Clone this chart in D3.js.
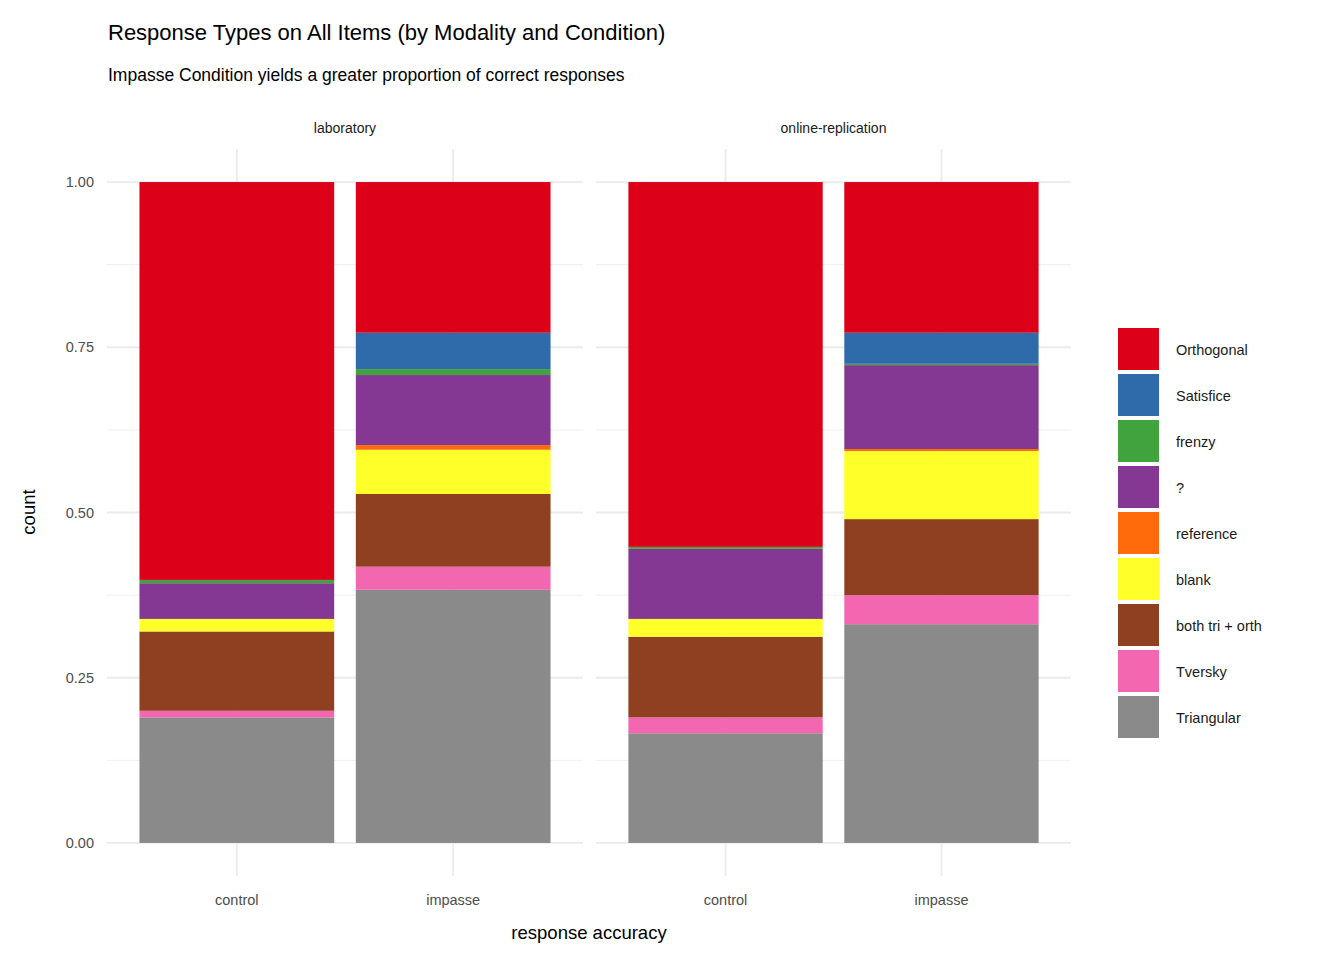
<!DOCTYPE html>
<html><head><meta charset="utf-8">
<script src="https://cdn.jsdelivr.net/npm/d3@7"></script>
<style>body{margin:0;background:#fff;font-family:"Liberation Sans",Arial,sans-serif}</style>
</head><body><svg id="c" width="1344" height="960"></svg>
<script>
// response types, bottom to top of the stack
const types = ["Triangular", "Tversky", "both tri + orth", "blank", "reference", "?", "frenzy", "Satisfice", "Orthogonal"];
const colors = ["#8a8a8a", "#f267b0", "#8f4020", "#ffff2a", "#ff6a0a", "#843894", "#41a33e", "#2f6bab", "#dc0018"];
const panels = ["laboratory", "online-replication"];
const conditions = ["control", "impasse"];
// proportions per panel / condition, in the order of `types`
const labControl     = [0.190, 0.010, 0.120, 0.019, 0.000, 0.054, 0.005, 0.000, 0.602];
const labImpasse     = [0.383, 0.035, 0.110, 0.067, 0.007, 0.106, 0.009, 0.055, 0.228];
const onlineControl  = [0.166, 0.024, 0.122, 0.027, 0.000, 0.106, 0.003, 0.000, 0.552];
const onlineImpasse  = [0.331, 0.044, 0.115, 0.103, 0.003, 0.127, 0.002, 0.047, 0.228];
const values = [[labControl, labImpasse], [onlineControl, onlineImpasse]];
const yTicks = [0, 0.25, 0.5, 0.75, 1];
const yMinor = [0.125, 0.375, 0.625, 0.875];

const svg = d3.select("#c");
const plotTop = 149, plotBottom = 876;
const y = d3.scaleLinear().domain([-0.05, 1.05]).range([plotBottom, plotTop]);
const panelX = [[107, 583], [596, 1071]];

svg.append("text").attr("x", 108).attr("y", 40).attr("font-size", 22).text("Response Types on All Items (by Modality and Condition)");
svg.append("text").attr("x", 108).attr("y", 81).attr("font-size", 17.5).text("Impasse Condition yields a greater proportion of correct responses");

panels.forEach((p, pi) => {
  // discrete scale: bar width 0.9 of one unit, 0.6 unit expansion each side
  const unit = (panelX[pi][1] - panelX[pi][0]) / 2.2;
  const cx = c => panelX[pi][0] + unit * (0.6 + conditions.indexOf(c));
  const g = svg.append("g");
  yMinor.forEach(t => g.append("line").attr("x1", panelX[pi][0]).attr("x2", panelX[pi][1])
    .attr("y1", y(t)).attr("y2", y(t)).attr("stroke", "#ebebeb").attr("stroke-width", 0.8));
  yTicks.forEach(t => g.append("line").attr("x1", panelX[pi][0]).attr("x2", panelX[pi][1])
    .attr("y1", y(t)).attr("y2", y(t)).attr("stroke", "#ebebeb").attr("stroke-width", 1.8));
  conditions.forEach(c => g.append("line").attr("x1", cx(c)).attr("x2", cx(c))
    .attr("y1", plotTop).attr("y2", plotBottom).attr("stroke", "#ebebeb").attr("stroke-width", 1.8));
  conditions.forEach((c, ci) => {
    let acc = 0;
    values[pi][ci].forEach((v, ti) => {
      if (v > 0) g.append("rect").attr("x", cx(c) - unit * 0.45).attr("width", unit * 0.9)
        .attr("y", y(acc + v)).attr("height", y(acc) - y(acc + v)).attr("fill", colors[ti]);
      acc += v;
    });
    g.append("text").attr("x", cx(c)).attr("y", 905).attr("text-anchor", "middle")
      .attr("font-size", 14.5).attr("fill", "#4d4d4d").text(c);
  });
  g.append("text").attr("x", (panelX[pi][0] + panelX[pi][1]) / 2).attr("y", 133)
    .attr("text-anchor", "middle").attr("font-size", 14).attr("fill", "#1a1a1a").text(p);
});

yTicks.forEach(t => svg.append("text").attr("x", 94).attr("y", y(t) + 5).attr("text-anchor", "end")
  .attr("font-size", 14.5).attr("fill", "#4d4d4d").text(d3.format(".2f")(t)));
svg.append("text").attr("x", 589).attr("y", 939).attr("text-anchor", "middle").attr("font-size", 18.5).text("response accuracy");
svg.append("text").attr("transform", "translate(35,512)rotate(-90)").attr("text-anchor", "middle").attr("font-size", 18.5).text("count");

const legendTypes = types.slice().reverse();
const legendColors = colors.slice().reverse();
legendTypes.forEach((t, i) => {
  const yy = 327 + i * 46;
  svg.append("rect").attr("x", 1117).attr("y", yy).attr("width", 43).attr("height", 44)
    .attr("fill", legendColors[i]).attr("stroke", "#fff").attr("stroke-width", 2);
  svg.append("text").attr("x", 1176).attr("y", yy + 28).attr("font-size", 14.5).attr("fill", "#1a1a1a").text(t);
});
</script></body></html>
